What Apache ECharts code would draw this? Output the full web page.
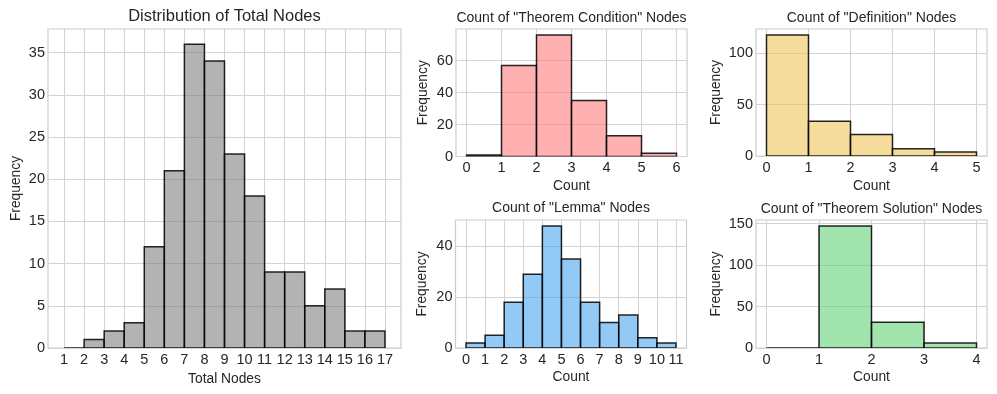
<!DOCTYPE html>
<html>
<head>
<meta charset="utf-8">
<script src="https://cdn.jsdelivr.net/npm/echarts@6/dist/echarts.min.js"></script>
<style>
html,body{margin:0;padding:0;background:#fff;}
#chart{width:997px;height:394px;}
</style>
</head>
<body>
<div id="chart"></div>
<script>
// ---- Data (bins have width 1, starting at the given left edge) ----
const totalNodesStart = 1;
const totalNodesCounts = [0, 1, 2, 3, 12, 21, 36, 34, 23, 18, 9, 9, 5, 7, 2, 2];
const totalNodesXTicks = [1,2,3,4,5,6,7,8,9,10,11,12,13,14,15,16,17];
const totalNodesYTicks = [0,5,10,15,20,25,30,35];

const condStart = 0;
const condCounts = [1, 57, 76, 35, 13, 2];
const condXTicks = [0,1,2,3,4,5,6];
const condYTicks = [0,20,40,60];

const defStart = 0;
const defCounts = [118, 34, 21, 7, 4];
const defXTicks = [0,1,2,3,4,5];
const defYTicks = [0,50,100];

const lemmaStart = 0;
const lemmaCounts = [2, 5, 18, 29, 48, 35, 18, 10, 13, 4, 2];
const lemmaXTicks = [0,1,2,3,4,5,6,7,8,9,10,11];
const lemmaYTicks = [0,20,40];

const solStart = 0;
const solCounts = [0, 147, 31, 6];
const solXTicks = [0,1,2,3,4];
const solYTicks = [0,50,100,150];

const titles = ['Distribution of Total Nodes', 'Count of "Theorem Condition" Nodes', 'Count of "Definition" Nodes', 'Count of "Lemma" Nodes', 'Count of "Theorem Solution" Nodes'];
const xNames = ['Total Nodes', 'Count', 'Count', 'Count', 'Count'];

// ---- Layout / style ----
const FONT = "'Liberation Sans', Arial, sans-serif";
const TXT = '#262626';
const panels = [
  {start: totalNodesStart, counts: totalNodesCounts, xt: totalNodesXTicks, yt: totalNodesYTicks,
   grid: {left: 48, top: 29, width: 353, height: 319}, fill: 'rgba(128,128,128,0.6)', titleTop: 7.5, titleSize: 16.5, xGap: 20, yGap: 25},
  {start: condStart, counts: condCounts, xt: condXTicks, yt: condYTicks,
   grid: {left: 456, top: 29, width: 231, height: 127.5}, fill: 'rgba(255,125,125,0.6)', titleTop: 11.5, titleSize: 14, xGap: 23, yGap: 26},
  {start: defStart, counts: defCounts, xt: defXTicks, yt: defYTicks,
   grid: {left: 756, top: 29, width: 231, height: 127}, fill: 'rgba(238,197,90,0.6)', titleTop: 11, titleSize: 14, xGap: 23, yGap: 33},
  {start: lemmaStart, counts: lemmaCounts, xt: lemmaXTicks, yt: lemmaYTicks,
   grid: {left: 455.5, top: 220, width: 231, height: 128}, fill: 'rgba(75,165,238,0.6)', titleTop: 201.5, titleSize: 14, xGap: 22, yGap: 26},
  {start: solStart, counts: solCounts, xt: solXTicks, yt: solYTicks,
   grid: {left: 756, top: 220, width: 231, height: 128}, fill: 'rgba(100,210,120,0.6)', titleTop: 202.5, titleSize: 14, xGap: 22, yGap: 33}
];

const option = {
  backgroundColor: '#fff',
  animation: false,
  title: [], grid: [], xAxis: [], yAxis: [], series: []
};

panels.forEach((p, i) => {
  const n = p.counts.length;
  const lo = p.start, hi = p.start + n;
  const xm = (hi - lo) * 0.05;
  const ymax = Math.max(...p.counts) * 1.05;
  option.grid.push(Object.assign({show: true, borderColor: '#cccccc', borderWidth: 1.2, backgroundColor: '#fff', containLabel: false}, p.grid));
  option.title.push({
    text: titles[i], left: p.grid.left + p.grid.width / 2, top: p.titleTop, textAlign: 'center', padding: 0,
    textStyle: {fontFamily: FONT, fontSize: p.titleSize, fontWeight: 'normal', color: TXT}
  });
  option.xAxis.push({
    type: 'value', gridIndex: i, min: lo - xm, max: hi + xm,
    name: xNames[i], nameLocation: 'middle', nameGap: p.xGap,
    nameTextStyle: {fontFamily: FONT, fontSize: 13.8, color: TXT},
    axisLine: {show: false}, axisTick: {show: false, customValues: p.xt},
    axisLabel: {customValues: p.xt, fontFamily: FONT, fontSize: 14.5, color: TXT, margin: 4},
    splitLine: {show: true, lineStyle: {color: '#d3d3d3', width: 1}}
  });
  option.yAxis.push({
    type: 'value', gridIndex: i, min: 0, max: ymax,
    name: 'Frequency', nameLocation: 'middle', nameGap: p.yGap, nameRotate: 90,
    nameTextStyle: {fontFamily: FONT, fontSize: 13.8, color: TXT},
    axisLine: {show: false}, axisTick: {show: false, customValues: p.yt},
    axisLabel: {customValues: p.yt, fontFamily: FONT, fontSize: 14.5, color: TXT, margin: 3},
    splitLine: {show: true, lineStyle: {color: '#d3d3d3', width: 1}}
  });
  const data = p.counts.map((c, k) => [p.start + k, p.start + k + 1, c]);
  const fill = p.fill;
  option.series.push({
    type: 'custom', xAxisIndex: i, yAxisIndex: i, data: data, clip: true,
    encode: {x: [0, 1], y: 2},
    renderItem: function (params, api) {
      const a = api.coord([api.value(0), api.value(2)]);
      const b = api.coord([api.value(1), 0]);
      return {
        type: 'rect',
        shape: {x: a[0], y: a[1], width: b[0] - a[0], height: b[1] - a[1]},
        style: {fill: fill, stroke: 'rgba(0,0,0,0.85)', lineWidth: 1.5}
      };
    }
  });
});

const chart = echarts.init(document.getElementById('chart'), null, {renderer: 'canvas'});
chart.setOption(option);
</script>
</body>
</html>
